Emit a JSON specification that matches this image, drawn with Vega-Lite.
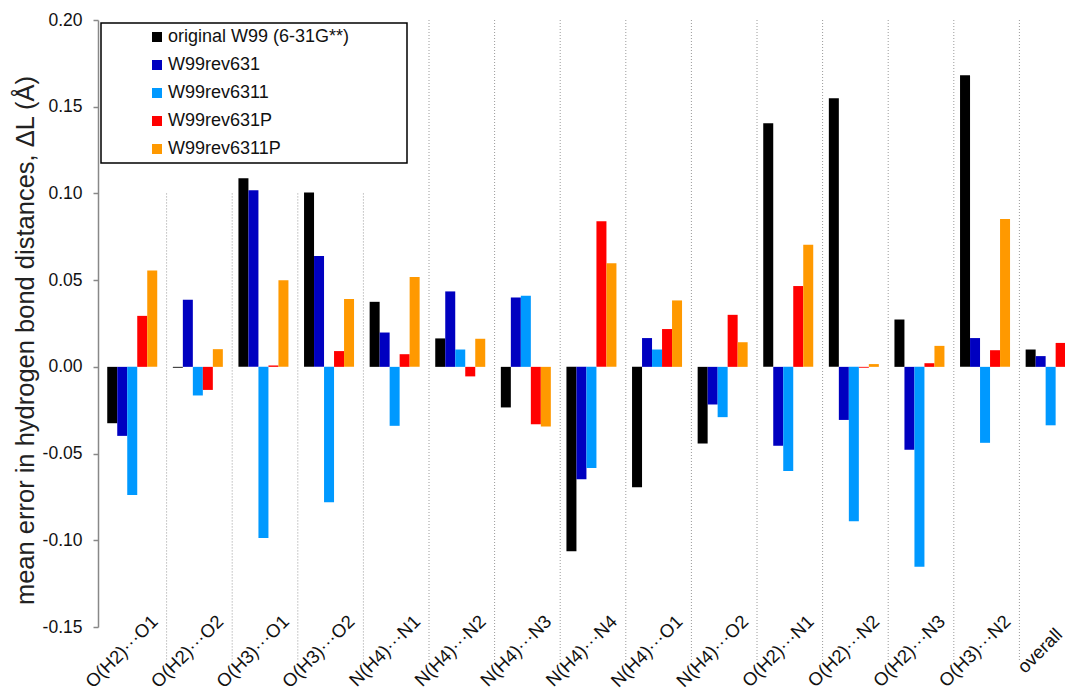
{
  "$schema": "https://vega.github.io/schema/vega-lite/v6.json",
  "width": 967,
  "height": 607,
  "autosize": {"type": "none"},
  "padding": {"left": 98, "top": 20, "right": 0, "bottom": 71},
  "background": "white",
  "config": {"view": {"stroke": null}, "font": "Liberation Sans"},
  "datasets": {
    "separators": [
      {"cat": "O(H2)···O2", "top": 0.1, "bottom": -0.17},
      {"cat": "O(H3)···O1", "top": 0.1, "bottom": -0.17},
      {"cat": "O(H3)···O2", "top": 0.1, "bottom": -0.17},
      {"cat": "N(H4)···N1", "top": 0.1, "bottom": -0.17},
      {"cat": "N(H4)···N2", "top": 0.2, "bottom": -0.17},
      {"cat": "N(H4)···N3", "top": 0.2, "bottom": -0.17},
      {"cat": "N(H4)···N4", "top": 0.2, "bottom": -0.17},
      {"cat": "N(H4)···O1", "top": 0.2, "bottom": -0.17},
      {"cat": "N(H4)···O2", "top": 0.2, "bottom": -0.17},
      {"cat": "O(H2)···N1", "top": 0.2, "bottom": -0.17},
      {"cat": "O(H2)···N2", "top": 0.2, "bottom": -0.17},
      {"cat": "O(H2)···N3", "top": 0.2, "bottom": -0.17},
      {"cat": "O(H3)···N2", "top": 0.2, "bottom": -0.17},
      {"cat": "overall", "top": 0.2, "bottom": -0.17}
    ],
    "bars": [
      {"cat": "O(H2)···O1", "series": "original W99 (6-31G**)", "value": -0.0325},
      {"cat": "O(H2)···O1", "series": "W99rev631", "value": -0.0398},
      {"cat": "O(H2)···O1", "series": "W99rev6311", "value": -0.0739},
      {"cat": "O(H2)···O1", "series": "W99rev631P", "value": 0.0294},
      {"cat": "O(H2)···O1", "series": "W99rev6311P", "value": 0.0556},
      {"cat": "O(H2)···O2", "series": "original W99 (6-31G**)", "value": -0.0005},
      {"cat": "O(H2)···O2", "series": "W99rev631", "value": 0.0387},
      {"cat": "O(H2)···O2", "series": "W99rev6311", "value": -0.0165},
      {"cat": "O(H2)···O2", "series": "W99rev631P", "value": -0.0133},
      {"cat": "O(H2)···O2", "series": "W99rev6311P", "value": 0.0102},
      {"cat": "O(H3)···O1", "series": "original W99 (6-31G**)", "value": 0.1087},
      {"cat": "O(H3)···O1", "series": "W99rev631", "value": 0.1018},
      {"cat": "O(H3)···O1", "series": "W99rev6311", "value": -0.0987},
      {"cat": "O(H3)···O1", "series": "W99rev631P", "value": 0.0008},
      {"cat": "O(H3)···O1", "series": "W99rev6311P", "value": 0.05},
      {"cat": "O(H3)···O2", "series": "original W99 (6-31G**)", "value": 0.1006},
      {"cat": "O(H3)···O2", "series": "W99rev631", "value": 0.0639},
      {"cat": "O(H3)···O2", "series": "W99rev6311", "value": -0.0781},
      {"cat": "O(H3)···O2", "series": "W99rev631P", "value": 0.0091},
      {"cat": "O(H3)···O2", "series": "W99rev6311P", "value": 0.0391},
      {"cat": "N(H4)···N1", "series": "original W99 (6-31G**)", "value": 0.0375},
      {"cat": "N(H4)···N1", "series": "W99rev631", "value": 0.0198},
      {"cat": "N(H4)···N1", "series": "W99rev6311", "value": -0.034},
      {"cat": "N(H4)···N1", "series": "W99rev631P", "value": 0.0073},
      {"cat": "N(H4)···N1", "series": "W99rev6311P", "value": 0.0518},
      {"cat": "N(H4)···N2", "series": "original W99 (6-31G**)", "value": 0.0164},
      {"cat": "N(H4)···N2", "series": "W99rev631", "value": 0.0435},
      {"cat": "N(H4)···N2", "series": "W99rev6311", "value": 0.01},
      {"cat": "N(H4)···N2", "series": "W99rev631P", "value": -0.0055},
      {"cat": "N(H4)···N2", "series": "W99rev6311P", "value": 0.0162},
      {"cat": "N(H4)···N3", "series": "original W99 (6-31G**)", "value": -0.0234},
      {"cat": "N(H4)···N3", "series": "W99rev631", "value": 0.04},
      {"cat": "N(H4)···N3", "series": "W99rev6311", "value": 0.041},
      {"cat": "N(H4)···N3", "series": "W99rev631P", "value": -0.0331},
      {"cat": "N(H4)···N3", "series": "W99rev6311P", "value": -0.0344},
      {"cat": "N(H4)···N4", "series": "original W99 (6-31G**)", "value": -0.1063},
      {"cat": "N(H4)···N4", "series": "W99rev631", "value": -0.0648},
      {"cat": "N(H4)···N4", "series": "W99rev6311", "value": -0.0583},
      {"cat": "N(H4)···N4", "series": "W99rev631P", "value": 0.0839},
      {"cat": "N(H4)···N4", "series": "W99rev6311P", "value": 0.0598},
      {"cat": "N(H4)···O1", "series": "original W99 (6-31G**)", "value": -0.0694},
      {"cat": "N(H4)···O1", "series": "W99rev631", "value": 0.0166},
      {"cat": "N(H4)···O1", "series": "W99rev6311", "value": 0.01},
      {"cat": "N(H4)···O1", "series": "W99rev631P", "value": 0.0218},
      {"cat": "N(H4)···O1", "series": "W99rev6311P", "value": 0.0383},
      {"cat": "N(H4)···O2", "series": "original W99 (6-31G**)", "value": -0.0442},
      {"cat": "N(H4)···O2", "series": "W99rev631", "value": -0.0217},
      {"cat": "N(H4)···O2", "series": "W99rev6311", "value": -0.029},
      {"cat": "N(H4)···O2", "series": "W99rev631P", "value": 0.03},
      {"cat": "N(H4)···O2", "series": "W99rev6311P", "value": 0.0142},
      {"cat": "O(H2)···N1", "series": "original W99 (6-31G**)", "value": 0.1404},
      {"cat": "O(H2)···N1", "series": "W99rev631", "value": -0.0455},
      {"cat": "O(H2)···N1", "series": "W99rev6311", "value": -0.06},
      {"cat": "O(H2)···N1", "series": "W99rev631P", "value": 0.0466},
      {"cat": "O(H2)···N1", "series": "W99rev6311P", "value": 0.0704},
      {"cat": "O(H2)···N2", "series": "original W99 (6-31G**)", "value": 0.1549},
      {"cat": "O(H2)···N2", "series": "W99rev631", "value": -0.0306},
      {"cat": "O(H2)···N2", "series": "W99rev6311", "value": -0.089},
      {"cat": "O(H2)···N2", "series": "W99rev631P", "value": -0.0005},
      {"cat": "O(H2)···N2", "series": "W99rev6311P", "value": 0.0016},
      {"cat": "O(H2)···N3", "series": "original W99 (6-31G**)", "value": 0.0273},
      {"cat": "O(H2)···N3", "series": "W99rev631", "value": -0.0478},
      {"cat": "O(H2)···N3", "series": "W99rev6311", "value": -0.1153},
      {"cat": "O(H2)···N3", "series": "W99rev631P", "value": 0.0021},
      {"cat": "O(H2)···N3", "series": "W99rev6311P", "value": 0.0121},
      {"cat": "O(H3)···N2", "series": "original W99 (6-31G**)", "value": 0.1681},
      {"cat": "O(H3)···N2", "series": "W99rev631", "value": 0.0166},
      {"cat": "O(H3)···N2", "series": "W99rev6311", "value": -0.0438},
      {"cat": "O(H3)···N2", "series": "W99rev631P", "value": 0.0096},
      {"cat": "O(H3)···N2", "series": "W99rev6311P", "value": 0.0852},
      {"cat": "overall", "series": "original W99 (6-31G**)", "value": 0.01},
      {"cat": "overall", "series": "W99rev631", "value": 0.0062},
      {"cat": "overall", "series": "W99rev6311", "value": -0.0337},
      {"cat": "overall", "series": "W99rev631P", "value": 0.0138}
    ]
  },
  "layer": [
    {
      "data": {"name": "separators"},
      "mark": {"type": "rule", "strokeDash": [1, 2], "color": "#9a9a9a", "strokeWidth": 1},
      "encoding": {
        "x": {
          "field": "cat", "type": "nominal", "bandPosition": 0, "title": null,
          "scale": {
            "type": "band",
            "domain": ["O(H2)···O1", "O(H2)···O2", "O(H3)···O1", "O(H3)···O2", "N(H4)···N1", "N(H4)···N2", "N(H4)···N3", "N(H4)···N4", "N(H4)···O1", "N(H4)···O2", "O(H2)···N1", "O(H2)···N2", "O(H2)···N3", "O(H3)···N2", "overall"],
            "range": [3, 987], "paddingInner": 0, "paddingOuter": 0
          }
        },
        "y": {"field": "top", "type": "quantitative", "title": "mean error in hydrogen bond distances, ΔL (Å)"},
        "y2": {"field": "bottom"}
      }
    },
    {
      "data": {"name": "bars"},
      "mark": {"type": "bar"},
      "encoding": {
        "x": {
          "field": "cat", "type": "nominal", "title": null,
          "scale": {
            "type": "band",
            "domain": ["O(H2)···O1", "O(H2)···O2", "O(H3)···O1", "O(H3)···O2", "N(H4)···N1", "N(H4)···N2", "N(H4)···N3", "N(H4)···N4", "N(H4)···O1", "N(H4)···O2", "O(H2)···N1", "O(H2)···N2", "O(H2)···N3", "O(H3)···N2", "overall"],
            "range": [3, 987], "paddingInner": 0, "paddingOuter": 0
          },
          "axis": {
            "domain": false, "ticks": false, "grid": false,
            "labelAngle": -45, "labelAlign": "right", "labelBaseline": "middle",
            "labelFontSize": 18.5, "labelColor": "#111111",
            "labelPadding": {"condition": {"test": "datum.value === 'overall'", "value": 4}, "value": -9},
            "labelOffset": {"condition": {"test": "datum.value === 'overall'", "value": 7}, "value": 21},
            "labelOverlap": false, "labelBound": false, "labelFlush": false, "labelLimit": 300
          }
        },
        "xOffset": {
          "field": "series", "type": "nominal",
          "scale": {"domain": ["original W99 (6-31G**)", "W99rev631", "W99rev6311", "W99rev631P", "W99rev6311P"], "paddingInner": 0, "paddingOuter": 0.78, "align": 0.4}
        },
        "y": {
          "field": "value", "type": "quantitative",
          "title": "mean error in hydrogen bond distances, ΔL (Å)",
          "scale": {"domain": [-0.15, 0.2], "nice": false, "zero": false},
          "axis": {
            "values": [-0.15, -0.1, -0.05, 0, 0.05, 0.1, 0.15, 0.2],
            "labelExpr": "datum.value < 0 ? '-' + format(-datum.value, '.2f') : format(datum.value, '.2f')",
            "grid": false, "labelFontSize": 17.5, "labelColor": "#111111", "labelPadding": 11,
            "tickSize": 5, "tickColor": "#888888", "tickWidth": 1.5, "domainColor": "#888888", "domainWidth": 1.5,
            "titleFontSize": 25.5, "titleFontWeight": "normal", "titleColor": "#222222",
            "titleAngle": -90, "titleAlign": "center", "titleBaseline": "bottom", "titleX": -60, "titleY": 320
          }
        },
        "color": {
          "field": "series", "type": "nominal",
          "scale": {
            "domain": ["original W99 (6-31G**)", "W99rev631", "W99rev6311", "W99rev631P", "W99rev6311P"],
            "range": ["#000000", "#0000C0", "#0099FF", "#FF0000", "#FF9900"]
          },
          "legend": {
            "orient": "none", "legendX": 3, "legendY": 3, "title": null,
            "padding": 5, "strokeColor": "#000000", "fillColor": "#ffffff",
            "symbolType": "square", "symbolSize": 100, "symbolStrokeWidth": 0, "symbolOffset": 42,
            "labelFontSize": 18, "labelColor": "#111111", "labelOffset": 2, "rowPadding": 10, "labelLimit": 500,
            "labelExpr": "datum.label + '\u2800\u2800\u2800\u2800'",
            "encode": {"legend": {"update": {"strokeWidth": {"value": 1.5}}}}
          }
        }
      }
    }
  ]
}
